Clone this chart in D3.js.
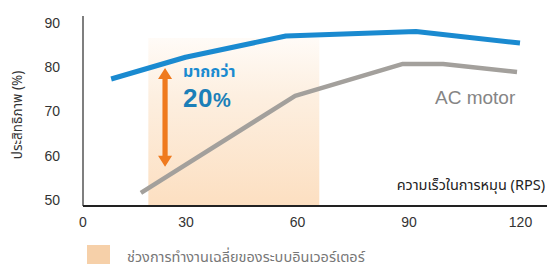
<!DOCTYPE html>
<html><head><meta charset="utf-8">
<script src="https://cdn.jsdelivr.net/npm/d3@7/dist/d3.min.js"></script>
<style>
html,body{margin:0;padding:0;background:#fff;}
svg{display:block;font-family:"Noto Sans Thai","Liberation Sans",Arial,"Noto Sans",sans-serif;}
</style></head>
<body>
<svg id="c" width="550" height="269"></svg>
<script>
// ---- data ----
const xTicks = [0, 30, 60, 90, 120];
const yTicks = [50, 60, 70, 80, 90];
const inverterSpeed = [10, 30, 57, 92, 120];
const inverterEff   = [77.3, 82.2, 87.0, 88.0, 85.4];
const acSpeed = [18, 59.5, 88.5, 99.3, 119.2];
const acEff   = [51.6, 73.5, 80.7, 80.7, 78.9];
const bandRange = [20, 66];          // average inverter operating range (RPS)
const arrowSpeed = 24.5;
const arrowEff = [57.5, 79.8];
const yTitle = "ประสิทธิภาพ (%)";
const xTitle = "ความเร็วในการหมุน (RPS)";
const gainLine1 = "มากกว่า";
const gainValue = "20";
const acLabel = "AC motor";
const legendLabel = "ช่วงการทำงานเฉลี่ยของระบบอินเวอร์เตอร์";

// ---- chart ----
const svg = d3.select("#c");
const x = d3.scaleLinear().domain([0, 120]).range([74, 520]);
const y = d3.scaleLinear().domain([50, 90]).range([200, 22.7]);
const x0 = 83, xEnd = 547, yBottom = 206, yTop = 16;

const defs = svg.append("defs");
const g = defs.append("linearGradient").attr("id","band").attr("x1",0).attr("y1",0).attr("x2",0).attr("y2",1);
g.append("stop").attr("offset","0%").attr("stop-color","#fffbf7");
g.append("stop").attr("offset","35%").attr("stop-color","#fdefe0");
g.append("stop").attr("offset","100%").attr("stop-color","#fcdfc1");

// shaded band
svg.append("rect")
  .attr("x", x(bandRange[0])).attr("y", 38)
  .attr("width", x(bandRange[1]) - x(bandRange[0]))
  .attr("height", yBottom - 38)
  .attr("fill", "url(#band)");

// axes
const yAxis = d3.axisLeft(y).tickValues(yTicks).tickSize(0).tickPadding(23);
const yg = svg.append("g").attr("transform", `translate(${x0},0)`).call(yAxis);
yg.select(".domain").remove();
yg.selectAll("text").attr("font-size", 14).attr("fill", "#333").attr("font-family","Liberation Sans, Arial, sans-serif");

const xAxis = d3.axisBottom(x).tickValues(xTicks).tickSize(0).tickPadding(11);
const xg = svg.append("g").attr("transform", `translate(0,${yBottom})`).call(xAxis);
xg.select(".domain").remove();
xg.selectAll(".tick").filter(d => d === 0).attr("transform", `translate(${x0},0)`);
xg.selectAll("text").attr("font-size", 14).attr("fill", "#333").attr("font-family","Liberation Sans, Arial, sans-serif");

svg.append("line").attr("x1", x0).attr("x2", x0).attr("y1", yTop).attr("y2", yBottom)
  .attr("stroke", "#555").attr("stroke-width", 1.5);
svg.append("line").attr("x1", x0).attr("x2", xEnd).attr("y1", yBottom).attr("y2", yBottom)
  .attr("stroke", "#222").attr("stroke-width", 2);

// titles
svg.append("text").attr("transform", `translate(22,115) rotate(-90)`)
  .attr("text-anchor", "middle").attr("font-size", 13.5).attr("fill", "#333").text(yTitle);
svg.append("text").attr("x", 545).attr("y", 190).attr("text-anchor", "end")
  .attr("font-size", 14.5).attr("fill", "#222").text(xTitle);

// lines
const line = d3.line().x(d => x(d[0])).y(d => y(d[1]));
svg.append("path").datum(d3.zip(acSpeed, acEff)).attr("d", line)
  .attr("fill", "none").attr("stroke", "#a3a09c").attr("stroke-width", 4.5).attr("stroke-linejoin","round");
svg.append("path").datum(d3.zip(inverterSpeed, inverterEff)).attr("d", line)
  .attr("fill", "none").attr("stroke", "#1a8ad0").attr("stroke-width", 5).attr("stroke-linejoin","round");

// double arrow
const ax = x(arrowSpeed), aTop = y(arrowEff[1]), aBot = y(arrowEff[0]);
const headH = 11, headW = 7, shaft = 2.6;
svg.append("path")
  .attr("d", `M${ax},${aTop} L${ax+headW},${aTop+headH} L${ax+shaft},${aTop+headH} L${ax+shaft},${aBot-headH}
   L${ax+headW},${aBot-headH} L${ax},${aBot} L${ax-headW},${aBot-headH} L${ax-shaft},${aBot-headH}
   L${ax-shaft},${aTop+headH} L${ax-headW},${aTop+headH} Z`)
  .attr("fill", "#ef7a1e");

// annotation
svg.append("text").attr("x", 183).attr("y", 77).attr("font-size", 16).attr("font-weight", "bold")
  .attr("fill", "#1a8ad0").text(gainLine1);
const t = svg.append("text").attr("x", 183).attr("y", 107).attr("font-weight", "bold")
  .attr("fill", "#1b7fb8").attr("font-family","Liberation Sans, Arial, sans-serif").attr("letter-spacing", 0.5);
t.append("tspan").attr("font-size", 26).text(gainValue);
t.append("tspan").attr("font-size", 20).text("%");

svg.append("text").attr("x", 435).attr("y", 104).attr("font-size", 19).attr("fill", "#858585")
  .attr("font-family","Liberation Sans, Arial, sans-serif").text(acLabel);

// legend
svg.append("rect").attr("x", 87).attr("y", 245).attr("width", 23).attr("height", 19).attr("fill", "#f6d0a9");
svg.append("text").attr("x", 127).attr("y", 262).attr("font-size", 14.5).attr("fill", "#777").text(legendLabel);
</script>
</body></html>
